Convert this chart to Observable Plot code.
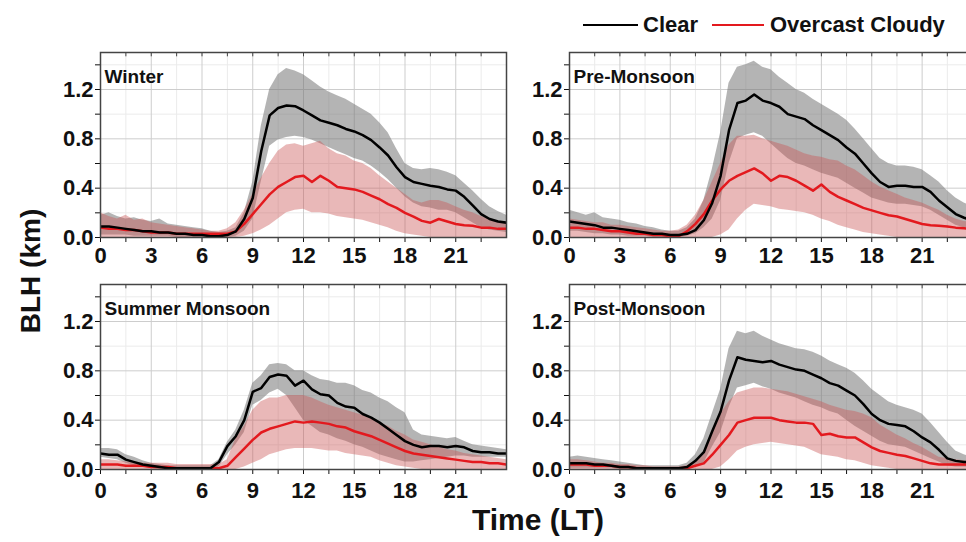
<!DOCTYPE html>
<html>
<head>
<meta charset="utf-8">
<script src="https://cdn.jsdelivr.net/npm/d3@7"></script>
<script src="https://cdn.jsdelivr.net/npm/@observablehq/plot@0.6"></script>
<style>
  html, body { margin: 0; padding: 0; background: #fff; }
  #wrap { position: relative; width: 966px; height: 542px; overflow: hidden; font-family: "Liberation Sans", Arial, sans-serif; font-weight: bold; color: #111; }
  #wrap svg { position: absolute; overflow: visible; }
  .abs { position: absolute; white-space: nowrap; }
</style>
</head>
<body>
<div id="wrap"></div>
<script>
// ---------- data (BLH in km, read at half-hour steps) ----------
const hours = [0,0.5,1,1.5,2,2.5,3,3.5,4,4.5,5,5.5,6,6.5,7,7.5,8,8.5,9,9.5,10,10.5,11,11.5,12,12.5,13,13.5,14,14.5,15,15.5,16,16.5,17,17.5,18,18.5,19,19.5,20,20.5,21,21.5,22,22.5,23,23.5,24];

const panelNames = ["Winter", "Pre-Monsoon", "Summer Monsoon", "Post-Monsoon"];
const seriesNames = ["Clear", "Overcast Cloudy"];
const xTicks = [0,1.5,3,4.5,6,7.5,9,10.5,12,13.5,15,16.5,18,19.5,21,22.5];
const xTickLabels = [0,3,6,9,12,15,18,21];
const yTicks = [0,0.2,0.4,0.6,0.8,1.0,1.2,1.4];
const yTickLabels = [0,0.4,0.8,1.2];
const xMajorGrid = [3,6,9,12,15,18,21];
const xMinorGrid = [1.5,4.5,7.5,10.5,13.5,16.5,19.5,22.5];
const yMajorGrid = [0.4,0.8,1.2];
const yMinorGrid = [0.2,0.6,1.0,1.4];

// Winter
const winterClearMean = [0.09,0.09,0.08,0.07,0.06,0.05,0.05,0.04,0.04,0.03,0.03,0.02,
  0.02,0.01,0.01,0.02,0.05,0.15,0.32,0.70,0.99,1.05,1.07,1.065,
  1.03,0.99,0.95,0.93,0.91,0.88,0.86,0.83,0.79,0.73,0.665,0.57,
  0.49,0.45,0.435,0.42,0.41,0.39,0.38,0.33,0.26,0.19,0.15,0.13,
  0.12];
const winterClearHi = [0.18,0.20,0.17,0.15,0.16,0.14,0.13,0.15,0.11,0.10,0.09,0.08,
  0.07,0.05,0.04,0.05,0.08,0.20,0.45,0.90,1.20,1.32,1.37,1.35,
  1.32,1.27,1.22,1.18,1.15,1.12,1.08,1.04,1.00,0.93,0.85,0.72,
  0.60,0.56,0.55,0.56,0.55,0.53,0.50,0.44,0.38,0.31,0.25,0.21,
  0.18];
const winterClearLo = [0.02,0.02,0.02,0.02,0.01,0.01,0.01,0.01,0.01,0,0,0,
  0,0,0,0,0.01,0.05,0.15,0.45,0.74,0.79,0.81,0.82,
  0.81,0.79,0.76,0.73,0.70,0.67,0.64,0.62,0.58,0.53,0.47,0.40,
  0.33,0.28,0.25,0.24,0.22,0.22,0.20,0.16,0.12,0.08,0.06,0.05,
  0.04];
const winterCloudMean = [0.08,0.07,0.07,0.06,0.06,0.05,0.04,0.04,0.04,0.03,0.03,0.03,
  0.03,0.03,0.03,0.03,0.05,0.11,0.19,0.27,0.35,0.41,0.45,0.49,
  0.50,0.45,0.50,0.46,0.41,0.40,0.39,0.37,0.34,0.31,0.27,0.24,
  0.20,0.17,0.135,0.12,0.15,0.13,0.11,0.10,0.095,0.08,0.08,0.07,
  0.07];
const winterCloudHi = [0.20,0.17,0.15,0.18,0.14,0.15,0.12,0.11,0.10,0.09,0.08,0.07,
  0.06,0.05,0.05,0.07,0.12,0.22,0.35,0.48,0.60,0.70,0.75,0.76,
  0.74,0.76,0.78,0.72,0.68,0.66,0.62,0.60,0.56,0.50,0.45,0.40,
  0.35,0.30,0.28,0.30,0.30,0.28,0.25,0.22,0.20,0.17,0.15,0.13,
  0.12];
const winterCloudLo = [0,0,0,0,0,0,0,0,0,0,0,0,
  0,0,0,0,0,0.01,0.03,0.06,0.10,0.15,0.20,0.22,
  0.23,0.20,0.20,0.19,0.17,0.16,0.15,0.14,0.12,0.10,0.08,0.05,
  0.03,0.02,0.01,0,0,0,0,0,0,0,0,0,
  0];

// Pre-Monsoon
const preClearMean = [0.13,0.12,0.11,0.10,0.08,0.08,0.07,0.06,0.05,0.04,0.03,0.03,
  0.02,0.02,0.03,0.06,0.14,0.28,0.50,0.87,1.09,1.11,1.16,1.11,
  1.09,1.06,1.00,0.98,0.96,0.91,0.87,0.83,0.79,0.73,0.68,0.60,
  0.52,0.45,0.41,0.42,0.42,0.41,0.41,0.37,0.30,0.245,0.19,0.16,
  0.14];
const preClearHi = [0.22,0.20,0.18,0.20,0.16,0.15,0.14,0.12,0.11,0.09,0.08,0.06,
  0.05,0.05,0.08,0.15,0.30,0.55,0.85,1.25,1.38,1.40,1.43,1.38,
  1.36,1.30,1.25,1.20,1.17,1.12,1.08,1.04,1.00,0.95,0.88,0.80,
  0.72,0.64,0.60,0.58,0.58,0.57,0.55,0.50,0.45,0.38,0.32,0.28,
  0.25];
const preClearLo = [0.05,0.05,0.04,0.03,0.03,0.02,0.02,0.01,0.01,0.01,0,0,
  0,0,0.01,0.03,0.08,0.15,0.30,0.60,0.80,0.83,0.85,0.82,
  0.76,0.70,0.64,0.60,0.58,0.55,0.52,0.50,0.48,0.44,0.40,0.36,
  0.32,0.30,0.28,0.27,0.27,0.26,0.25,0.22,0.18,0.14,0.10,0.08,
  0.07];
const preCloudMean = [0.08,0.08,0.07,0.07,0.06,0.05,0.05,0.04,0.03,0.03,0.02,0.02,
  0.01,0.01,0.05,0.11,0.19,0.30,0.39,0.46,0.50,0.53,0.56,0.52,
  0.46,0.50,0.49,0.46,0.42,0.38,0.43,0.37,0.33,0.30,0.27,0.24,
  0.22,0.20,0.18,0.17,0.15,0.13,0.11,0.10,0.095,0.09,0.08,0.075,
  0.07];
const preCloudHi = [0.15,0.14,0.13,0.12,0.12,0.10,0.10,0.09,0.08,0.07,0.06,0.05,
  0.05,0.06,0.10,0.18,0.30,0.45,0.60,0.75,0.82,0.82,0.83,0.80,
  0.78,0.76,0.74,0.71,0.68,0.66,0.65,0.63,0.62,0.58,0.55,0.50,
  0.45,0.41,0.38,0.35,0.32,0.30,0.28,0.25,0.22,0.18,0.15,0.13,
  0.12];
const preCloudLo = [0,0,0,0,0,0,0,0,0,0,0,0,
  0,0,0,0,0,0,0.02,0.06,0.15,0.22,0.27,0.26,
  0.25,0.23,0.22,0.21,0.20,0.18,0.15,0.13,0.10,0.08,0.06,0.04,
  0.03,0.02,0.01,0,0,0,0,0,0,0,0,0,
  0];

// Summer Monsoon
const sumClearMean = [0.13,0.12,0.12,0.08,0.06,0.04,0.03,0.02,0.01,0.01,0.01,0.01,
  0.01,0.01,0.06,0.19,0.27,0.40,0.63,0.66,0.75,0.77,0.76,0.68,
  0.72,0.65,0.61,0.60,0.54,0.51,0.50,0.45,0.42,0.38,0.33,0.28,
  0.23,0.20,0.18,0.19,0.19,0.18,0.19,0.18,0.15,0.14,0.14,0.13,
  0.13];
const sumClearHi = [0.17,0.17,0.16,0.12,0.10,0.07,0.05,0.04,0.03,0.03,0.03,0.03,
  0.03,0.03,0.08,0.22,0.32,0.48,0.70,0.76,0.85,0.86,0.85,0.80,
  0.80,0.76,0.73,0.72,0.70,0.70,0.68,0.64,0.62,0.58,0.55,0.50,
  0.46,0.32,0.28,0.27,0.26,0.25,0.26,0.23,0.20,0.19,0.18,0.17,
  0.16];
const sumClearLo = [0.10,0.09,0.08,0.05,0.03,0.02,0.01,0,0,0,0,0,
  0,0,0.02,0.12,0.20,0.30,0.52,0.56,0.62,0.65,0.60,0.50,
  0.40,0.35,0.30,0.28,0.25,0.23,0.20,0.18,0.15,0.12,0.10,0.08,
  0.06,0.06,0.07,0.08,0.09,0.10,0.11,0.11,0.10,0.10,0.10,0.10,
  0.10];
const sumCloudMean = [0.04,0.04,0.04,0.03,0.03,0.03,0.02,0.02,0.02,0.01,0.01,0.01,
  0.01,0.01,0.01,0.03,0.10,0.17,0.24,0.30,0.33,0.35,0.37,0.39,
  0.38,0.39,0.38,0.37,0.35,0.34,0.31,0.29,0.27,0.24,0.21,0.18,
  0.15,0.13,0.12,0.11,0.10,0.09,0.08,0.07,0.06,0.06,0.05,0.05,
  0.04];
const sumCloudHi = [0.08,0.08,0.07,0.06,0.06,0.05,0.05,0.05,0.05,0.04,0.04,0.04,
  0.04,0.04,0.04,0.08,0.25,0.35,0.48,0.55,0.58,0.58,0.60,0.60,
  0.60,0.58,0.55,0.52,0.50,0.48,0.46,0.44,0.42,0.38,0.35,0.31,
  0.28,0.24,0.22,0.20,0.18,0.16,0.15,0.13,0.12,0.11,0.10,0.09,
  0.08];
const sumCloudLo = [0,0,0,0,0,0,0,0,0,0,0,0,
  0,0,0,0,0,0.02,0.05,0.08,0.12,0.14,0.16,0.17,
  0.17,0.17,0.16,0.15,0.15,0.13,0.12,0.11,0.10,0.07,0.05,0.03,
  0.02,0.01,0,0,0,0,0,0,0,0,0,0,
  0];

// Post-Monsoon
const postClearMean = [0.05,0.05,0.05,0.04,0.04,0.03,0.02,0.02,0.01,0.01,0.01,0.01,
  0.01,0.01,0.02,0.07,0.14,0.31,0.47,0.72,0.91,0.89,0.88,0.87,
  0.88,0.85,0.83,0.81,0.80,0.77,0.74,0.70,0.68,0.64,0.60,0.53,
  0.45,0.40,0.37,0.36,0.35,0.31,0.26,0.22,0.16,0.09,0.07,0.06,
  0.06];
const postClearHi = [0.10,0.11,0.10,0.09,0.08,0.07,0.06,0.05,0.04,0.03,0.03,0.03,
  0.03,0.03,0.05,0.12,0.25,0.45,0.65,0.98,1.12,1.10,1.12,1.08,
  1.05,1.02,1.00,0.98,0.97,0.95,0.92,0.88,0.85,0.82,0.78,0.72,
  0.65,0.60,0.55,0.52,0.50,0.48,0.45,0.38,0.30,0.22,0.15,0.12,
  0.10];
const postClearLo = [0.01,0.01,0.01,0.01,0.01,0.01,0,0,0,0,0,0,
  0,0,0,0.02,0.05,0.18,0.30,0.50,0.66,0.68,0.70,0.67,
  0.65,0.62,0.60,0.58,0.55,0.52,0.50,0.47,0.45,0.40,0.35,0.31,
  0.27,0.23,0.20,0.19,0.18,0.15,0.12,0.09,0.06,0.03,0.02,0.02,
  0.02];
const postCloudMean = [0.04,0.04,0.04,0.03,0.03,0.03,0.02,0.02,0.01,0.01,0.01,0.01,
  0.01,0.01,0.01,0.03,0.05,0.12,0.20,0.28,0.38,0.40,0.42,0.42,
  0.42,0.40,0.39,0.38,0.38,0.37,0.28,0.29,0.27,0.26,0.26,0.22,
  0.18,0.15,0.135,0.12,0.11,0.09,0.07,0.05,0.04,0.04,0.04,0.04,
  0.04];
const postCloudHi = [0.08,0.08,0.07,0.06,0.05,0.05,0.04,0.04,0.03,0.03,0.02,0.02,
  0.02,0.02,0.03,0.06,0.12,0.30,0.45,0.55,0.62,0.64,0.66,0.66,
  0.65,0.64,0.63,0.61,0.59,0.57,0.55,0.52,0.50,0.48,0.47,0.45,
  0.42,0.36,0.32,0.28,0.25,0.21,0.18,0.14,0.10,0.09,0.08,0.07,
  0.06];
const postCloudLo = [0,0,0,0,0,0,0,0,0,0,0,0,
  0,0,0,0,0,0,0.02,0.08,0.15,0.18,0.20,0.21,
  0.22,0.21,0.20,0.19,0.18,0.15,0.12,0.11,0.10,0.08,0.07,0.05,
  0.03,0.02,0.01,0,0,0,0,0,0,0,0,0,
  0];

// ---------- drawing ----------
const wrap = document.getElementById("wrap");
const FONT = '"Liberation Sans", Arial, Helvetica, sans-serif';

function panel(name, cm, chi, clo, om, ohi, olo, geo) {
  const rows = hours.map((t, i) => ({t, cm: cm[i], chi: chi[i], clo: clo[i], om: om[i], ohi: ohi[i], olo: olo[i]}));
  const svg = Plot.plot({
    width: geo.width, height: geo.height,
    marginLeft: geo.ml, marginRight: geo.mr, marginTop: geo.mt, marginBottom: geo.mb,
    style: {fontFamily: FONT, fontSize: "22px", fontWeight: "bold", color: "#111", background: "transparent", overflow: "visible"},
    x: {domain: [0, geo.xMax], ticks: xTicks, tickFormat: d => xTickLabels.includes(d) ? String(d) : "", tickSize: 5, tickPadding: geo.xpad, label: null},
    y: {domain: [0, 1.5], ticks: yTicks, tickFormat: d => yTickLabels.some(v => Math.abs(v - d) < 1e-9) ? d.toFixed(1) : "", tickSize: 5, tickPadding: 2, label: null},
    marks: [
      Plot.ruleX(xMinorGrid, {stroke: "#ebebeb", strokeWidth: 1}),
      Plot.ruleY(yMinorGrid, {stroke: "#ebebeb", strokeWidth: 1}),
      Plot.ruleX(xMajorGrid, {stroke: "#cdcdcd", strokeWidth: 1}),
      Plot.ruleY(yMajorGrid, {stroke: "#cdcdcd", strokeWidth: 1}),
      Plot.areaY(rows, {x: "t", y1: "clo", y2: "chi", fill: "#777777", fillOpacity: 0.55, clip: true}),
      Plot.areaY(rows, {x: "t", y1: "olo", y2: "ohi", fill: "rgb(203,85,85)", fillOpacity: 0.42, clip: true}),
      Plot.lineY(rows, {x: "t", y: "om", stroke: "#e3191e", strokeWidth: 2.5, clip: true}),
      Plot.lineY(rows, {x: "t", y: "cm", stroke: "#000000", strokeWidth: 2.5, clip: true}),
      Plot.ruleX(xTicks, {y1: 1.5, y2: 1.465, stroke: "#444", strokeWidth: 1}),
      Plot.text([name], {text: d => d, frameAnchor: "top-left", textAnchor: "start", lineAnchor: "top", dx: 4, dy: 17, fontSize: 19, fontWeight: "bold", fill: "#111"}),
      Plot.frame({stroke: "#444", strokeWidth: 1.5})
    ]
  });
  svg.style.left = geo.left + "px";
  svg.style.top = geo.top + "px";
  wrap.appendChild(svg);
}

const colL = {left: 0, width: 520, ml: 100, mr: 14, xMax: 24};
const colR = {left: 483, width: 489, ml: 86, mr: 0, xMax: 24};
const rowT = {top: 0, height: 270, mt: 52, mb: 33, xpad: 5};
const rowB = {top: 270, height: 240, mt: 14, mb: 41, xpad: 8};

panel(panelNames[0], winterClearMean, winterClearHi, winterClearLo, winterCloudMean, winterCloudHi, winterCloudLo, {...colL, ...rowT});
panel(panelNames[1], preClearMean, preClearHi, preClearLo, preCloudMean, preCloudHi, preCloudLo, {...colR, ...rowT});
panel(panelNames[2], sumClearMean, sumClearHi, sumClearLo, sumCloudMean, sumCloudHi, sumCloudLo, {...colL, ...rowB});
panel(panelNames[3], postClearMean, postClearHi, postClearLo, postCloudMean, postCloudHi, postCloudLo, {...colR, ...rowB});

// legend
function add(html, css) {
  const d = document.createElement("div");
  d.className = "abs";
  d.innerHTML = html;
  Object.assign(d.style, css);
  wrap.appendChild(d);
  return d;
}
add("", {left: "583px", top: "24px", width: "55px", height: "0", borderTop: "2.5px solid #000"});
add(seriesNames[0], {left: "643px", top: "12px", fontSize: "22px", lineHeight: "26px"});
add("", {left: "712px", top: "24px", width: "52px", height: "0", borderTop: "2.5px solid #e3191e"});
add(seriesNames[1], {left: "770px", top: "12px", fontSize: "22px", lineHeight: "26px"});

// axis titles
add("BLH (km)", {left: "31px", top: "271px", fontSize: "28px", lineHeight: "30px", transform: "translate(-50%,-50%) rotate(-90deg)"});
add("Time (LT)", {left: "538px", top: "520px", fontSize: "30px", lineHeight: "32px", transform: "translate(-50%,-50%)"});
</script>
</body>
</html>
